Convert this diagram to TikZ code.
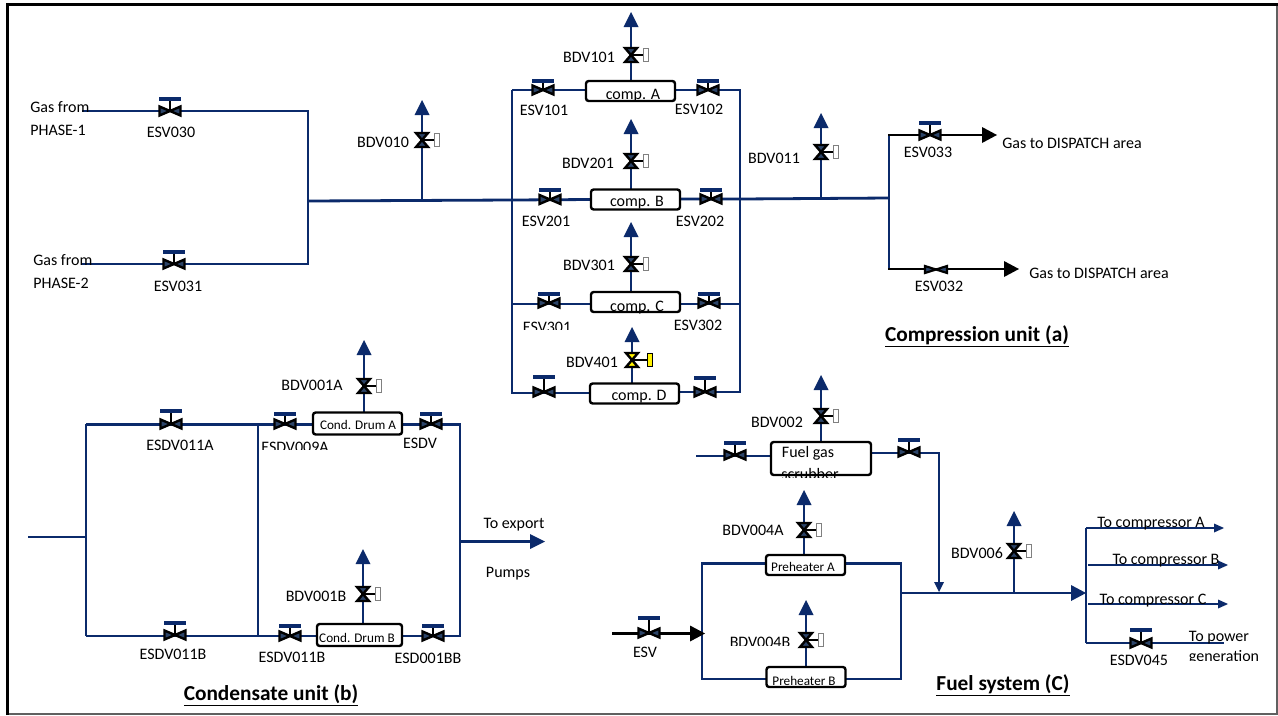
\documentclass[tikz,border=0pt]{standalone}
\usepackage{fontspec}
\setmainfont{Carlito}
\definecolor{pipe}{HTML}{0B2A6B}
\definecolor{tiefill}{HTML}{2C4468}
\definecolor{framegray}{HTML}{606060}
\definecolor{valveyellow}{HTML}{FFF200}
\tikzset{
  pipeline/.style={draw=pipe,line width=2.1pt,line join=miter},
  blackline/.style={draw=black,line width=2.1pt},
  vessel/.style={draw=black,fill=white,line width=1.8pt,rounded corners=2pt,inner sep=0pt,anchor=center},
  lbl/.style={inner sep=0pt,anchor=mid,yshift=-1.7pt,font=\fontsize{12pt}{14pt}\selectfont},
  smalllbl/.style={inner sep=0pt,anchor=mid,yshift=-1.4pt,font=\fontsize{9.9pt}{11pt}\selectfont},
  titlelbl/.style={inner sep=0pt,anchor=mid,yshift=-1.7pt,font=\fontsize{16pt}{18pt}\selectfont\bfseries},
  tiptip/.style={fill=pipe,draw=none},
  blacktip/.style={fill=black,draw=none}
}
% horizontal valve with hand wheel: name, x, y, bar y
\newcommand{\hvalve}[4]{%
  \coordinate (#1) at (#2,#3);
  \draw[black,line width=2pt] (#2,#3) -- (#2,#4);
  \draw[pipe,line width=3.2pt] ({#2-11},#4) -- ({#2+11},#4);
  \draw[black,line width=1.8pt,fill=tiefill,line join=miter] ({#2-10.5},{#3-4.5}) -- (#2,#3) -- ({#2-10.5},{#3+4.5}) -- cycle;
  \draw[black,line width=1.8pt,fill=tiefill,line join=miter] ({#2+10.5},{#3-4.5}) -- (#2,#3) -- ({#2+10.5},{#3+4.5}) -- cycle;
}
% valve without hand wheel
\newcommand{\bvalve}[3]{%
  \coordinate (#1) at (#2,#3);
  \draw[black,line width=1.6pt,fill=tiefill] ({#2-11},{#3-3.5}) -- (#2,#3) -- ({#2-11},{#3+3.5}) -- cycle;
  \draw[black,line width=1.6pt,fill=tiefill] ({#2+11},{#3-3.5}) -- (#2,#3) -- ({#2+11},{#3+3.5}) -- cycle;
}
% blowdown valve: name, x, y, fill, box fill, box line, box width
\newcommand{\bdv}[7]{%
  \coordinate (#1) at (#2,#3);
  \draw[black,line width=1.8pt] (#2,#3) -- ({#2+15},#3);
  \draw[#6,line width=0.5pt,fill=#5] ({#2+12+#7-5},{#3-6.5}) rectangle ({#2+17+#7-5},{#3+6});
  \draw[black,line width=1.8pt,fill=#4,line join=miter] ({#2-6},{#3-7}) -- ({#2+6},{#3-7}) -- (#2,#3) -- cycle;
  \draw[black,line width=1.8pt,fill=#4,line join=miter] ({#2-6},{#3+7}) -- ({#2+6},{#3+7}) -- (#2,#3) -- cycle;
}
% upward vent arrow: name, x, tip y
\newcommand{\vent}[3]{%
  \coordinate (#1) at (#2,{#3+14});
  \fill[tiptip] (#2,#3) -- ({#2+7.5},{#3+15}) -- ({#2-7.5},{#3+15}) -- cycle;
}
\newcommand{\tipright}[5]{% name x(tip) y half-height style
  \coordinate (#1) at ({#2-5},#3);
  \fill[#5] (#2,#3) -- ({#2-15},{#3-#4}) -- ({#2-15},{#3+#4}) -- cycle;
}
% label cut at its lower side: name x y cliptop clipbottom text
\newcommand{\cutlabel}[6]{%
  \begin{scope}
    \clip ({#2-60},#4) rectangle ({#2+60},#5);
    \node[lbl] (#1) at (#2,#3) {#6};
  \end{scope}
}
\begin{document}
\begin{tikzpicture}[x=0.75pt,y=-0.75pt]
\useasboundingbox (0,0) rectangle (1278,715);
\fill[white] (0,0) rectangle (1278,715);
% frame
\draw[framegray,line width=0.8pt] (7,714) -- (1277,714) -- (1277,5);
\draw[black,line width=1.9pt] (7.5,715) -- (7.5,4.5) -- (1278,4.5);

% ---------- junctions
\coordinate (a1) at (82,111);   \coordinate (a2) at (308,111);
\coordinate (a3) at (82,264);   \coordinate (a4) at (308,264);
\coordinate (a5) at (308,201);  \coordinate (a6) at (422,200);
\coordinate (L1) at (512,90);   \coordinate (L2) at (512,200);
\coordinate (L3) at (512,304);  \coordinate (L4) at (512,393);
\coordinate (R1) at (740,90);   \coordinate (R2) at (740,199);
\coordinate (R3) at (740,304);  \coordinate (R4) at (740,392);
\coordinate (m1) at (821,198);  \coordinate (m2) at (889,198);
\coordinate (n1) at (889,135);  \coordinate (n2) at (889,269);

% ---------- compression unit pipes
\draw[pipeline] (a1) -- (a2) -- (a4) -- (a3);
\draw[pipeline] (a5) -- (L2);
\draw[pipeline] (L1) -- (L4) -- (590,393);
\draw[pipeline] (L1) -- (586,90);
\draw[pipeline] (L3) -- (591,304);
\draw[pipeline] (L2) -- (591,199.5);
\draw[pipeline] (675,90) -- (R1) -- (R4) -- (679,392);
\draw[pipeline] (680,199) -- (R2) -- (m2);
\draw[pipeline] (680,304) -- (R3);
\draw[pipeline] (n1) -- (n2);
\draw[pipeline] (a6) -- (422,112);
\draw[pipeline] (m1) -- (821,125);
\draw[pipeline] (631,81) -- (631,25);
\draw[pipeline] (631,189) -- (631,132);
\draw[pipeline] (631,292) -- (631,235);
\draw[pipeline] (632,384) -- (632,340);
\draw[blackline] (888,135) -- (985,135);
\draw[blackline] (888,269) -- (1005,269);

% ---------- condensate unit pipes
\draw[pipeline] (28,537) -- (86,537);
\draw[pipeline] (86,424) -- (86,636);
\draw[pipeline] (86,424.5) -- (313,424.5);
\draw[pipeline] (86,636) -- (317,636);
\draw[pipeline] (258,424) -- (258,636);
\draw[pipeline] (402,424.5) -- (460,424.5) -- (460,636) -- (402,636);
\draw[pipeline] (460,541.5) -- (532,541.5);
\draw[pipeline] (364,412) -- (364,352);
\draw[pipeline] (363,624) -- (363,561);

% ---------- fuel system pipes
\draw[pipeline] (696,456) -- (771,456);
\draw[pipeline] (871,453) -- (939,453) -- (939,584);
\draw[pipeline] (821,442) -- (821,387);
\draw[pipeline] (804,555) -- (804,502);
\draw[pipeline] (806,667) -- (806,612);
\draw[pipeline] (766,563.5) -- (702,563.5) -- (702,679) -- (766,679);
\draw[pipeline] (845,563.5) -- (901,563.5) -- (901,679) -- (845,679);
\draw[pipeline] (901,593) -- (1075,593);
\draw[pipeline] (1014,593) -- (1014,523);
\draw[pipeline] (1086,528) -- (1086,643);
\draw[pipeline] (1086,528) -- (1214,528);
\draw[pipeline] (1088,565) -- (1218,565);
\draw[pipeline] (1088,604) -- (1218,604);
\draw[pipeline] (1086,643) -- (1224,643);
\draw[blackline] (612,633.5) -- (695,633.5);

% ---------- vessels
\node[vessel,minimum width=89pt*0.75,minimum height=20pt*0.75] (compA) at (630.5,91) {};
\node[vessel,minimum width=89pt*0.75,minimum height=20pt*0.75] (compB) at (635.5,199.5) {};
\node[vessel,minimum width=89pt*0.75,minimum height=20pt*0.75] (compC) at (635.5,302) {};
\node[vessel,minimum width=89pt*0.75,minimum height=20pt*0.75] (compD) at (634.5,393.5) {};
\node[vessel,minimum width=89pt*0.75,minimum height=22pt*0.75] (drumA) at (357.5,423.5) {};
\node[vessel,minimum width=85pt*0.75,minimum height=22pt*0.75] (drumB) at (359.5,635) {};
\node[vessel,minimum width=100pt*0.75,minimum height=33pt*0.75] (scrub) at (821,458.5) {};
\node[vessel,minimum width=79pt*0.75,minimum height=20pt*0.75] (heatA) at (805.5,565) {};
\node[vessel,minimum width=79pt*0.75,minimum height=20pt*0.75] (heatB) at (806,677) {};

% ---------- valves
\hvalve{ESV030v}{170}{111}{99}
\hvalve{ESV031v}{174}{264}{252}
\hvalve{ESV101v}{543}{90}{81}
\hvalve{ESV102v}{708}{90}{81}
\hvalve{ESV201v}{550}{199.5}{190}
\hvalve{ESV202v}{711}{199}{190}
\hvalve{ESV301v}{549}{303}{294}
\hvalve{ESV302v}{709}{303}{294}
\hvalve{ESV401v}{544}{392}{377}
\hvalve{ESV402v}{705}{392}{378}
\hvalve{ESV033v}{930}{135}{123}
\bvalve{ESV032v}{936}{269.5}
\hvalve{ESDV011Av}{171}{424}{411}
\hvalve{ESDV011Bv}{175}{635}{623}
\hvalve{ESDV009Av}{285}{424}{414}
\hvalve{ESDVv}{431}{424}{414}
\hvalve{ESDV011Cv}{290}{636}{626}
\hvalve{ESD001BBv}{433}{636}{626}
\hvalve{fuelL}{735}{455}{443}
\hvalve{fuelR}{909}{452}{440}
\hvalve{ESVv}{649}{633}{618}
\hvalve{ESDV045v}{1141}{643}{630}

\bdv{BDV101v}{631}{55}{tiefill}{white}{gray}{5}
\bdv{BDV201v}{631}{161}{tiefill}{white}{gray}{5}
\bdv{BDV301v}{631}{264}{tiefill}{white}{gray}{5}
\bdv{BDV401v}{632}{360}{valveyellow}{valveyellow}{black}{8}
\bdv{BDV010v}{422}{140}{tiefill}{white}{gray}{5}
\bdv{BDV011v}{821}{152}{tiefill}{white}{gray}{5}
\bdv{BDV001Av}{364}{386}{tiefill}{white}{gray}{5}
\bdv{BDV001Bv}{363}{594}{tiefill}{white}{gray}{5}
\bdv{BDV002v}{821}{416}{tiefill}{white}{gray}{5}
\bdv{BDV004Av}{804}{530}{tiefill}{white}{gray}{5}
\bdv{BDV004Bv}{806}{640}{tiefill}{white}{gray}{5}
\bdv{BDV006v}{1014}{551}{tiefill}{white}{gray}{5}

% ---------- arrow heads
\vent{t1}{631}{12}
\vent{t2}{631}{119}
\vent{t3}{631}{222}
\vent{t4}{632}{327}
\vent{t5}{422}{100}
\vent{t6}{821}{113}
\vent{t7}{364}{340}
\vent{t8}{363}{549}
\vent{t9}{821}{375}
\vent{t10}{804}{490}
\vent{t11}{806}{600}
\vent{t12}{1014}{511}
\tipright{r1}{997}{135}{8}{blacktip}
\tipright{r2}{1019}{269}{8}{blacktip}
\tipright{r3}{705}{633.5}{8}{blacktip}
\tipright{r4}{545}{541.5}{7.5}{tiptip}
\tipright{r5}{1086}{593}{8}{tiptip}
\fill[tiptip] (939,592) -- (934,582) -- (944,582) -- cycle;
\fill[tiptip] (1224,528) -- (1214,523.5) -- (1214,532.5) -- cycle;
\fill[tiptip] (1228,565) -- (1218,560.5) -- (1218,569.5) -- cycle;
\fill[tiptip] (1228,604) -- (1218,599.5) -- (1218,608.5) -- cycle;

% ---------- labels
\node[lbl,anchor=west] (g1) at (30,105) {Gas from};
\node[lbl,anchor=west] (g2) at (30,128) {PHASE-1};
\node[lbl,anchor=west] (g3) at (33,258) {Gas from};
\node[lbl,anchor=west] (g4) at (33,281) {PHASE-2};
\node[lbl] (l030) at (171,132) {ESV030};
\node[lbl] (l031) at (178,286) {ESV031};
\node[lbl] (l010) at (383,142) {BDV010};
\node[lbl] (l101) at (589,57) {BDV101};
\node[lbl] (e101) at (544,110) {ESV101};
\node[lbl] (e102) at (699,109) {ESV102};
\node[lbl] (lA) at (633,94) {comp. A};
\node[lbl] (l201) at (588,163) {BDV201};
\node[lbl] (e201) at (546,221) {ESV201};
\node[lbl] (e202) at (700,221) {ESV202};
\node[lbl] (lB) at (637,201) {comp. B};
\node[lbl] (l301) at (589,265) {BDV301};
\cutlabel{e301}{547}{327}{316}{329}{ESV301}
\node[lbl] (e302) at (698,325) {ESV302};
\node[lbl] (lC) at (637,306) {comp. C};
\node[lbl] (l401) at (592,362) {BDV401};
\node[lbl] (lD) at (639,395) {comp. D};
\node[lbl] (l011) at (774,158) {BDV011};
\node[lbl] (e033) at (928,152) {ESV033};
\node[lbl] (e032) at (939,286) {ESV032};
\node[lbl,anchor=west] (d1) at (1002,141) {Gas to DISPATCH area};
\node[lbl,anchor=west] (d2) at (1029,271) {Gas to DISPATCH area};
\node[titlelbl] (t_a) at (977,336) {\underline{Compression unit (a)}};
\node[lbl] (l001A) at (312,385) {BDV001A};
\node[lbl] (e011A) at (180,445) {ESDV011A};
\cutlabel{e009A}{295}{447}{436}{449.5}{ESDV009A}
\node[smalllbl] (lDA) at (358,424) {Cond. Drum A};
\node[lbl] (eESDV) at (420,443) {ESDV};
\node[lbl] (l001B) at (316,596) {BDV001B};
\node[smalllbl] (lDB) at (357,637) {Cond. Drum B};
\node[lbl] (e011B) at (173,654) {ESDV011B};
\node[lbl] (e011C) at (292,657) {ESDV011B};
\node[lbl] (e001BB) at (428,658) {ESD001BB};
\node[lbl] (lexp) at (514,523) {To export};
\node[lbl] (lpump) at (508,572) {Pumps};
\node[titlelbl] (t_b) at (271,695) {\underline{Condensate unit (b)}};
\node[lbl] (l002) at (777,422) {BDV002};
\node[lbl] (lf1) at (808,452) {Fuel gas};
\cutlabel{lf2}{810}{474}{463}{477.5}{scrubber}
\node[lbl] (l004A) at (753,530) {BDV004A};
\node[smalllbl] (lHA) at (803,566.5) {Preheater A};
\node[smalllbl] (lHB) at (804,680) {Preheater B};
\cutlabel{l004B}{760}{642.5}{632}{645.5}{BDV004B}
\node[lbl] (eESV) at (645,652) {ESV};
\node[lbl] (l006) at (977,553) {BDV006};
\node[lbl] (cA) at (1151,522) {To compressor A};
\node[lbl] (cB) at (1166,559) {To compressor B};
\node[lbl] (cC) at (1153,599) {To compressor C};
\node[lbl] (lpow) at (1219,636) {To power};
\cutlabel{lgen}{1224}{655.7}{648}{660.5}{generation}
\node[lbl] (e045) at (1139,660) {ESDV045};
\node[titlelbl] (t_c) at (1003,685) {\underline{Fuel system (C)}};
\end{tikzpicture}
\end{document}
